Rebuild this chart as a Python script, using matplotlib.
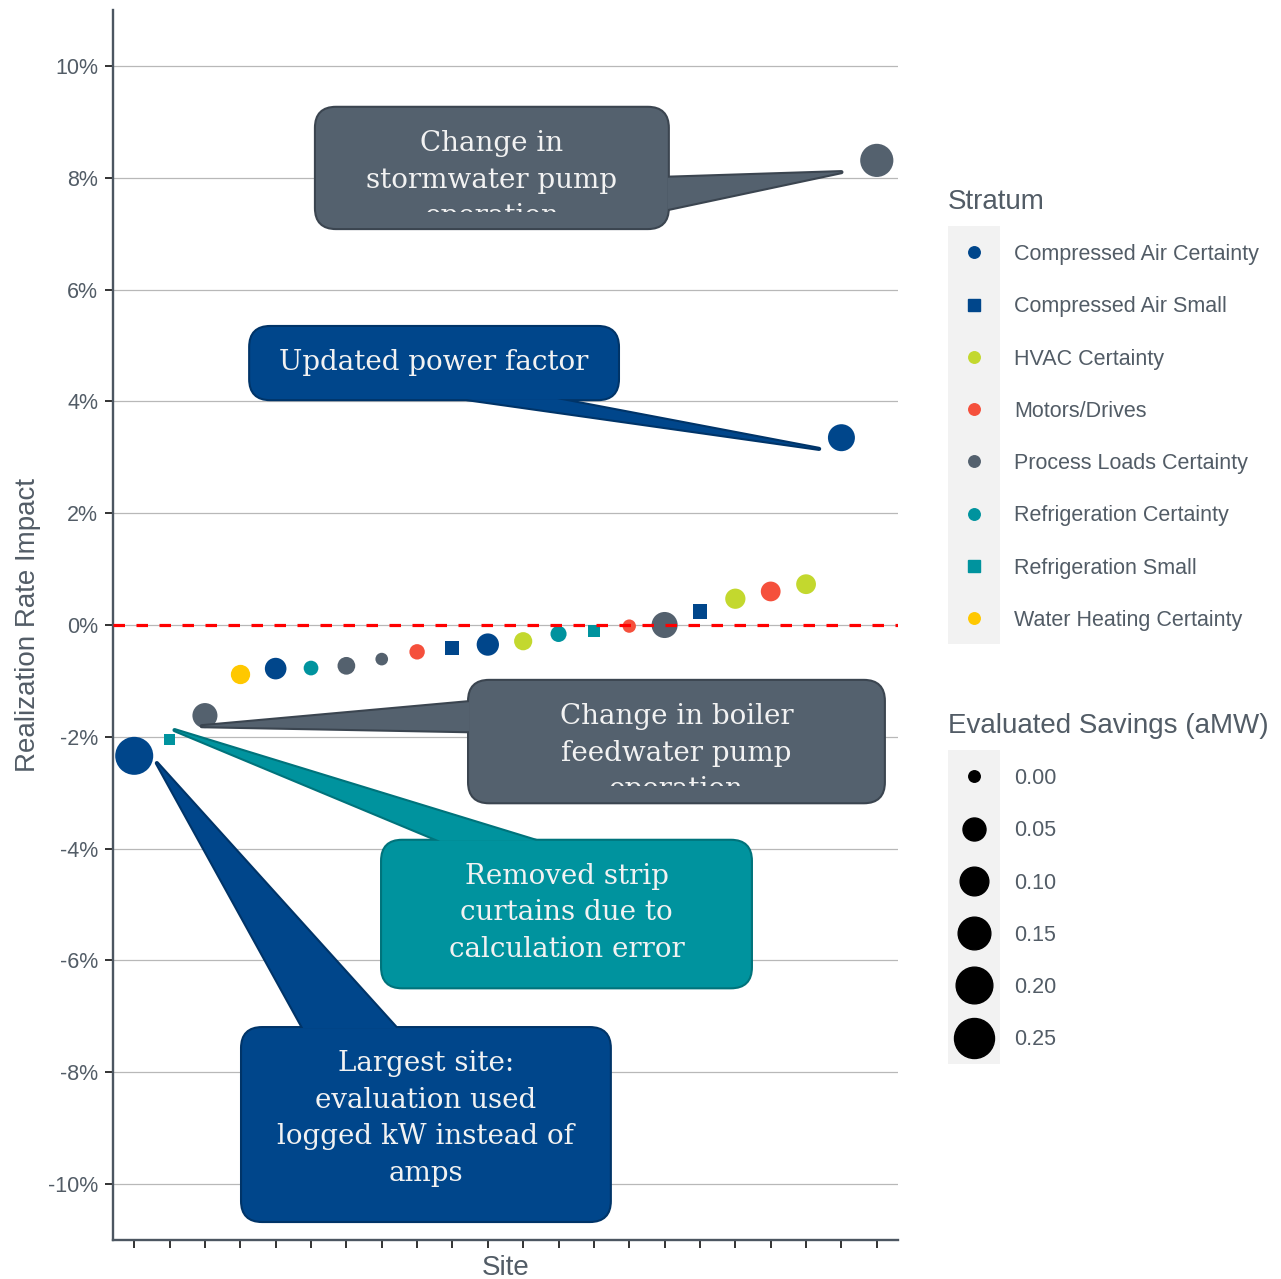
import numpy as np
import matplotlib
matplotlib.use("Agg")
import matplotlib.pyplot as plt
from matplotlib.patches import FancyBboxPatch, Polygon, Rectangle
from matplotlib.lines import Line2D
from matplotlib.legend_handler import HandlerBase
from matplotlib.ticker import FuncFormatter, FixedLocator
from matplotlib.transforms import Bbox, TransformedBbox

# ---------------- data ----------------
sites = list(range(1, 23))
impact = [-2.34, -2.05, -1.62, -0.88, -0.78, -0.77, -0.73, -0.61, -0.48, -0.42, -0.35,
          -0.29, -0.16, -0.10, -0.02, 0.00, 0.24, 0.47, 0.60, 0.73, 3.35, 8.31]
stratum = ["Compressed Air Certainty", "Refrigeration Small", "Process Loads Certainty",
           "Water Heating Certainty", "Compressed Air Certainty", "Refrigeration Certainty",
           "Process Loads Certainty", "Process Loads Certainty", "Motors/Drives",
           "Compressed Air Small", "Compressed Air Certainty", "HVAC Certainty",
           "Refrigeration Certainty", "Refrigeration Small", "Motors/Drives",
           "Process Loads Certainty", "Compressed Air Small", "HVAC Certainty",
           "Motors/Drives", "HVAC Certainty", "Compressed Air Certainty",
           "Process Loads Certainty"]
savings = [0.22, 0.0, 0.068, 0.034, 0.044, 0.014, 0.027, 0.005, 0.017, 0.011, 0.047,
           0.029, 0.020, 0.002, 0.008, 0.077, 0.013, 0.038, 0.036, 0.036, 0.085, 0.156]

strata = ["Compressed Air Certainty", "Compressed Air Small", "HVAC Certainty",
          "Motors/Drives", "Process Loads Certainty", "Refrigeration Certainty",
          "Refrigeration Small", "Water Heating Certainty"]
size_breaks = [0.00, 0.05, 0.10, 0.15, 0.20, 0.25]
size_labels = ["0.00", "0.05", "0.10", "0.15", "0.20", "0.25"]
y_ticks = [-10, -8, -6, -4, -2, 0, 2, 4, 6, 8, 10]

callout_texts = ["Change in\nstormwater pump\noperation",
                 "Updated power factor",
                 "Change in boiler\nfeedwater pump\noperation",
                 "Removed strip\ncurtains due to\ncalculation error",
                 "Largest site:\nevaluation used\nlogged kW instead of\namps"]

# ---------------- styles ----------------
BLUE = "#00468B"
GREY = "#54616E"
TEAL = "#00939E"
strata_colors = {"Compressed Air Certainty": BLUE, "Compressed Air Small": BLUE,
                 "HVAC Certainty": "#C3D82E", "Motors/Drives": "#F5503C",
                 "Process Loads Certainty": GREY, "Refrigeration Certainty": TEAL,
                 "Refrigeration Small": TEAL, "Water Heating Certainty": "#FFC800"}
strata_markers = {s: ("s" if s.endswith("Small") else "o") for s in strata}
size_diam_px = [11.5, 23.0, 28.7, 32.7, 36.7, 40.0]   # size scale range (px)

# callout geometry in data coordinates: box (x0, x1, y0, y1), tail (base1, base2, tip)
callout_boxes = [(6.14, 16.09, 7.10, 9.25),
                 (4.28, 14.68, 4.04, 5.33),
                 (10.47, 22.20, -3.17, -1.00),
                 (8.01, 18.44, -6.48, -3.86),
                 (4.05, 14.45, -10.66, -7.21)]
callout_tails = [((16.09, 8.00), (16.09, 7.44), (21.00, 8.10)),
                 ((10.41, 4.04), (12.96, 4.04), (20.37, 3.15)),
                 ((10.47, -1.38), (10.47, -1.90), (2.91, -1.81)),
                 ((9.65, -3.86), (12.36, -3.86), (2.14, -1.88)),
                 ((5.78, -7.21), (8.41, -7.21), (1.64, -2.47))]
callout_fill = [GREY, BLUE, GREY, TEAL, BLUE]
callout_edge = ["#3B4550", "#003468", "#3B4550", "#00737B", "#003468"]

TXT = "#525C66"
DPI = 100
W, H = 1281, 1279
PX2PT = 72.0 / DPI

plt.rcParams["font.family"] = ["Liberation Sans", "DejaVu Sans"]

fig = plt.figure(figsize=(W / DPI, H / DPI), dpi=DPI)
ax = fig.add_axes([113 / W, 1 - 1240 / H, (898 - 113) / W, (1240 - 10) / H])
ax.set_xlim(0.4, 22.6)
ax.set_ylim(-11, 11)


def size_px(v):
    return np.interp(v, size_breaks, size_diam_px)


sites_a = np.array(sites)
impact_a = np.array(impact)
sav_a = np.array(savings)
strat_a = np.array(stratum)
for s in strata:
    m = strat_a == s
    if not m.any():
        continue
    d = size_px(sav_a[m]) * PX2PT
    ax.scatter(sites_a[m], impact_a[m], s=d ** 2, c=strata_colors[s],
               marker=strata_markers[s], linewidths=0, zorder=3)

ax.axhline(0, color="#FF0000", lw=2.3, dashes=(3.6, 3.6), zorder=4)

# axes styling
for sp in ["top", "right"]:
    ax.spines[sp].set_visible(False)
for sp in ["left", "bottom"]:
    ax.spines[sp].set_color("#4C5661")
    ax.spines[sp].set_linewidth(1.7)
ax.yaxis.set_major_locator(FixedLocator(y_ticks))
ax.yaxis.set_major_formatter(FuncFormatter(lambda v, p: f"{v:.0f}%"))
ax.set_xticks(sites)
ax.set_xticklabels([])
ax.tick_params(axis="both", length=5.8, width=1.4, color="#333333",
               labelsize=15.5, labelcolor=TXT, pad=5)
ax.grid(axis="y", color="#B8B8B8", lw=0.9, zorder=0)
ax.set_axisbelow(True)
ax.set_ylabel("Realization Rate Impact", fontsize=20, color=TXT, labelpad=5)
ax.set_xlabel("Site", fontsize=20, color=TXT, labelpad=0)

# callouts
fig.canvas.draw()
p0 = ax.transData.transform((0, 0))
p1 = ax.transData.transform((1, 1))
ppx, ppy = p1[0] - p0[0], p1[1] - p0[1]
aspect = ppx / ppy
r = 20 / ppx
for txt, (x0, x1, y0, y1), tail, fc, ec in zip(callout_texts, callout_boxes, callout_tails,
                                             callout_fill, callout_edge):
    box_kw = dict(boxstyle=f"round,pad=0,rounding_size={r}", mutation_aspect=aspect)
    ax.add_patch(FancyBboxPatch((x0, y0), x1 - x0, y1 - y0, fc=fc, ec=ec, lw=3.0,
                                zorder=5, **box_kw))
    ax.add_patch(Polygon(tail, closed=True, fc=fc, ec=ec, lw=3.0, joinstyle="round", zorder=6))
    ax.add_patch(FancyBboxPatch((x0, y0), x1 - x0, y1 - y0, fc=fc, ec="none", lw=0,
                                zorder=7, **box_kw))
    ax.add_patch(Polygon(tail, closed=True, fc=fc, ec="none", lw=0, zorder=8))
    pad_top = 22 / ppy
    t = ax.text((x0 + x1) / 2, y1 - pad_top, txt, ha="center", va="top",
                fontsize=20, family="DejaVu Serif", color="#F2F2F2",
                linespacing=1.46, zorder=9, clip_on=True)
    clip = 16 / ppy
    t.set_clip_path(None)
    t.set_clip_box(TransformedBbox(Bbox([[x0, y0 + clip], [x1, y1 - clip]]), ax.transData))


# legends
class KeyHandler(HandlerBase):
    def create_artists(self, legend, orig_handle, xdescent, ydescent, width, height,
                       fontsize, trans):
        yc = 0.36 * fontsize
        bg = Rectangle((-xdescent, yc - height / 2), width, height, fc="#F2F2F2",
                       ec="none", transform=trans)
        mk = Line2D([-xdescent + width / 2], [yc], marker=orig_handle.get_marker(),
                    markersize=orig_handle.get_markersize(),
                    color=orig_handle.get_color(), ls="none", transform=trans)
        return [bg, mk]


FS = 15.5
fs_px = FS / PX2PT
leg_kw = dict(loc="upper left", bbox_transform=fig.transFigure, frameon=False,
              borderpad=0, borderaxespad=0, handlelength=52 / fs_px,
              handleheight=3.357, handletextpad=14 / fs_px, labelspacing=0,
              fontsize=FS, labelcolor=TXT)

h1 = [Line2D([], [], marker=strata_markers[s], color=strata_colors[s],
             markersize=11.5 * PX2PT, ls="none") for s in strata]
leg1 = fig.legend(h1, strata, bbox_to_anchor=(948 / W, 1 - 228 / H),
                  handler_map={h: KeyHandler() for h in h1}, **leg_kw)
h2 = [Line2D([], [], marker="o", color="black", markersize=size_px(v) * PX2PT, ls="none")
      for v in size_breaks]
leg2 = fig.legend(h2, size_labels, bbox_to_anchor=(948 / W, 1 - 752 / H),
                  handler_map={h: KeyHandler() for h in h2}, **leg_kw)
fig.text(948 / W, 1 - 202 / H, "Stratum", fontsize=20, color=TXT, ha="left", va="center")
fig.text(948 / W, 1 - 726 / H, "Evaluated Savings (aMW)", fontsize=20, color=TXT,
         ha="left", va="center")

fig.savefig("out.png", dpi=DPI)
